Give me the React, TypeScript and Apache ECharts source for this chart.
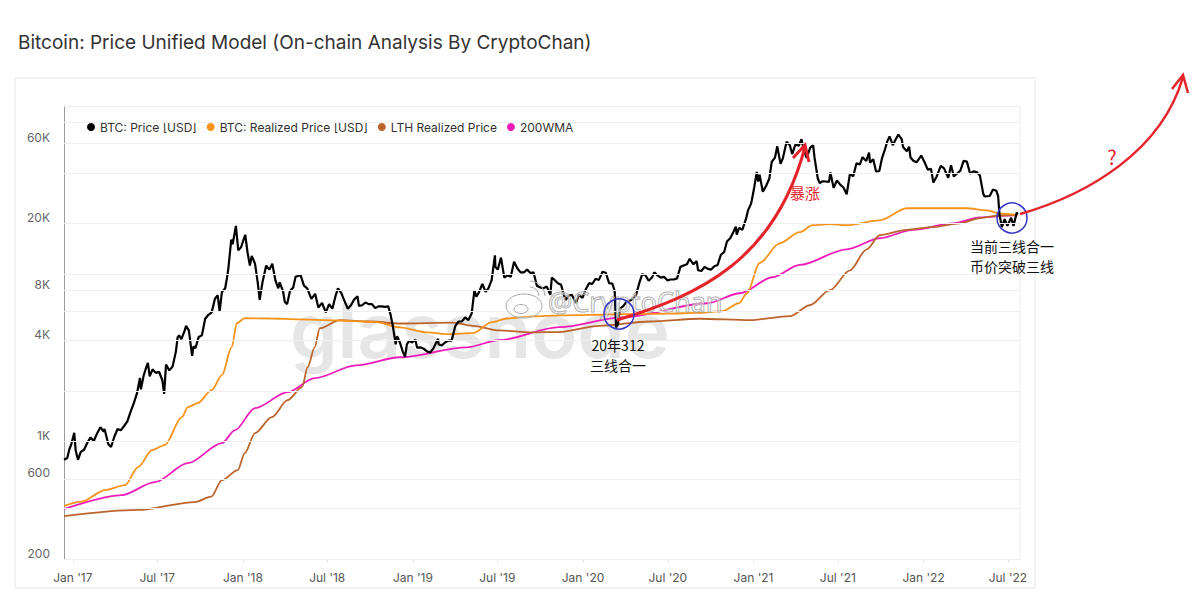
import React, { useEffect, useRef } from 'react';
import * as echarts from 'echarts';

const TITLE = 'Bitcoin: Price Unified Model (On-chain Analysis By CryptoChan)';
const SERIES_NAMES = ['BTC: Price [USD]', 'BTC: Realized Price [USD]', 'LTH Realized Price', '200WMA'];

const xTickDates = [
  '2017-01-01', '2017-07-01', '2018-01-01', '2018-07-01', '2019-01-01', '2019-07-01',
  '2020-01-01', '2020-07-01', '2021-01-01', '2021-07-01', '2022-01-01', '2022-07-01',
];
const xRange = ['2016-12-13', '2022-07-27'];
const yGridValues = [200, 400, 600, 1000, 2000, 4000, 6000, 8000, 10000, 20000, 40000, 60000, 80000, 100000];
const yTickValues = [200, 600, 1000, 4000, 8000, 20000, 60000];
const yTickLabels = ['200', '600', '1K', '4K', '8K', '20K', '60K'];
const monthNames = ['Jan', 'Feb', 'Mar', 'Apr', 'May', 'Jun', 'Jul', 'Aug', 'Sep', 'Oct', 'Nov', 'Dec'];

const btcPrice: [string, number][] = [
  ['2016-12-13', 780], ['2016-12-20', 800], ['2016-12-24', 890], ['2016-12-29', 975], ['2017-01-04', 1130],
  ['2017-01-07', 890], ['2017-01-12', 780], ['2017-01-18', 870], ['2017-01-25', 895], ['2017-02-01', 985],
  ['2017-02-08', 1060], ['2017-02-15', 1010], ['2017-02-22', 1120], ['2017-03-01', 1220], ['2017-03-08', 1150],
  ['2017-03-10', 1190], ['2017-03-18', 970], ['2017-03-24', 930], ['2017-03-31', 1070], ['2017-04-07', 1190],
  ['2017-04-14', 1170], ['2017-04-21', 1240], ['2017-04-28', 1320], ['2017-05-05', 1510], ['2017-05-12', 1700],
  ['2017-05-19', 1960], ['2017-05-25', 2400], ['2017-05-27', 2050], ['2017-06-02', 2480], ['2017-06-08', 2800],
  ['2017-06-11', 2950], ['2017-06-15', 2450], ['2017-06-21', 2700], ['2017-06-28', 2570], ['2017-07-05', 2610],
  ['2017-07-12', 2330], ['2017-07-16', 1930], ['2017-07-20', 2880], ['2017-07-27', 2660], ['2017-08-03', 2800],
  ['2017-08-10', 3420], ['2017-08-14', 4200], ['2017-08-17', 4300], ['2017-08-22', 4080], ['2017-08-29', 4590],
  ['2017-09-01', 4900], ['2017-09-07', 4600], ['2017-09-14', 3250], ['2017-09-17', 3700], ['2017-09-21', 3600],
  ['2017-09-28', 4200], ['2017-10-05', 4300], ['2017-10-12', 5400], ['2017-10-19', 5700], ['2017-10-26', 5900],
  ['2017-11-02', 7100], ['2017-11-08', 7450], ['2017-11-12', 5950], ['2017-11-17', 7800], ['2017-11-24', 8200],
  ['2017-11-29', 9900], ['2017-12-01', 10900], ['2017-12-07', 16000], ['2017-12-10', 15000], ['2017-12-17', 19300],
  ['2017-12-22', 13800], ['2017-12-28', 14400], ['2018-01-06', 17100], ['2018-01-11', 13400], ['2018-01-16', 11200],
  ['2018-01-20', 12800], ['2018-01-27', 11500], ['2018-02-02', 8800], ['2018-02-06', 7000], ['2018-02-12', 8900],
  ['2018-02-20', 11200], ['2018-02-27', 10600], ['2018-03-05', 11500], ['2018-03-12', 9100], ['2018-03-18', 8200],
  ['2018-03-21', 8900], ['2018-03-28', 7900], ['2018-04-01', 6800], ['2018-04-06', 6600], ['2018-04-12', 7900],
  ['2018-04-19', 8300], ['2018-04-24', 9600], ['2018-05-05', 9800], ['2018-05-12', 8500], ['2018-05-19', 8200],
  ['2018-05-28', 7100], ['2018-06-05', 7600], ['2018-06-12', 6300], ['2018-06-20', 6700], ['2018-06-28', 5900],
  ['2018-07-05', 6600], ['2018-07-12', 6200], ['2018-07-19', 7400], ['2018-07-24', 8200], ['2018-07-31', 7700],
  ['2018-08-07', 6900], ['2018-08-14', 6200], ['2018-08-21', 6500], ['2018-08-28', 7050], ['2018-09-04', 7350],
  ['2018-09-07', 6450], ['2018-09-14', 6500], ['2018-09-21', 6750], ['2018-09-28', 6600], ['2018-10-05', 6600],
  ['2018-10-12', 6250], ['2018-10-19', 6400], ['2018-10-26', 6400], ['2018-11-02', 6350], ['2018-11-09', 6400],
  ['2018-11-14', 5700], ['2018-11-19', 4850], ['2018-11-25', 3800], ['2018-11-28', 4250], ['2018-12-04', 3900],
  ['2018-12-10', 3450], ['2018-12-15', 3200], ['2018-12-19', 3800], ['2018-12-24', 4000], ['2018-12-30', 3900],
  ['2019-01-06', 4050], ['2019-01-10', 3630], ['2019-01-17', 3650], ['2019-01-24', 3580], ['2019-01-31', 3450],
  ['2019-02-07', 3400], ['2019-02-14', 3600], ['2019-02-24', 4100], ['2019-02-25', 3800], ['2019-03-04', 3750],
  ['2019-03-11', 3900], ['2019-03-18', 4000], ['2019-03-25', 4000], ['2019-04-02', 4900], ['2019-04-09', 5200],
  ['2019-04-16', 5200], ['2019-04-23', 5500], ['2019-04-30', 5300], ['2019-05-07', 5800], ['2019-05-13', 8000],
  ['2019-05-17', 7300], ['2019-05-22', 7700], ['2019-05-30', 8700], ['2019-06-06', 7800], ['2019-06-12', 8200],
  ['2019-06-19', 9200], ['2019-06-26', 12900], ['2019-06-27', 11000], ['2019-07-02', 10600], ['2019-07-09', 12500],
  ['2019-07-16', 9500], ['2019-07-23', 9800], ['2019-07-30', 9600], ['2019-08-06', 11800], ['2019-08-13', 10800],
  ['2019-08-20', 10200], ['2019-08-27', 10200], ['2019-09-03', 10600], ['2019-09-10', 10100], ['2019-09-17', 10200],
  ['2019-09-24', 8500], ['2019-10-01', 8300], ['2019-10-08', 8200], ['2019-10-15', 8400], ['2019-10-23', 7500],
  ['2019-10-26', 9500], ['2019-11-01', 9200], ['2019-11-08', 8800], ['2019-11-15', 8600], ['2019-11-22', 7300],
  ['2019-11-25', 7000], ['2019-12-01', 7400], ['2019-12-08', 7500], ['2019-12-17', 6700], ['2019-12-23', 7500],
  ['2019-12-31', 7200], ['2020-01-07', 8100], ['2020-01-14', 8800], ['2020-01-21', 8700], ['2020-01-28', 9350],
  ['2020-02-04', 9200], ['2020-02-12', 10300], ['2020-02-19', 10150], ['2020-02-26', 8800], ['2020-03-04', 8750],
  ['2020-03-09', 7900], ['2020-03-12', 4800], ['2020-03-16', 5000], ['2020-03-20', 6200], ['2020-03-27', 6400],
  ['2020-04-03', 6800], ['2020-04-10', 6900], ['2020-04-17', 7100], ['2020-04-24', 7500], ['2020-04-30', 8650],
  ['2020-05-07', 9950], ['2020-05-14', 9800], ['2020-05-21', 9100], ['2020-05-28', 9500], ['2020-06-02', 10200],
  ['2020-06-09', 9800], ['2020-06-16', 9500], ['2020-06-23', 9600], ['2020-06-30', 9150], ['2020-07-07', 9250],
  ['2020-07-14', 9250], ['2020-07-21', 9400], ['2020-07-28', 11000], ['2020-08-04', 11200], ['2020-08-11', 11400],
  ['2020-08-17', 12300], ['2020-08-25', 11400], ['2020-09-01', 11900], ['2020-09-04', 10500], ['2020-09-11', 10400],
  ['2020-09-18', 11000], ['2020-09-25', 10700], ['2020-10-02', 10600], ['2020-10-09', 11100], ['2020-10-16', 11300],
  ['2020-10-23', 13000], ['2020-10-30', 13500], ['2020-11-05', 15600], ['2020-11-12', 16300], ['2020-11-19', 17800],
  ['2020-11-24', 19100], ['2020-11-26', 17100], ['2020-12-01', 18800], ['2020-12-08', 18300], ['2020-12-16', 21300],
  ['2020-12-20', 23800], ['2020-12-27', 26300], ['2021-01-02', 32100], ['2021-01-08', 40500], ['2021-01-11', 35500],
  ['2021-01-14', 39000], ['2021-01-21', 30800], ['2021-01-28', 33400], ['2021-02-04', 37000], ['2021-02-09', 46400],
  ['2021-02-16', 49200], ['2021-02-21', 57500], ['2021-02-28', 45200], ['2021-03-05', 48800], ['2021-03-13', 61200],
  ['2021-03-20', 58300], ['2021-03-25', 51700], ['2021-04-01', 59000], ['2021-04-08', 58000], ['2021-04-14', 63500],
  ['2021-04-18', 55700], ['2021-04-25', 49100], ['2021-05-03', 56600], ['2021-05-09', 58300], ['2021-05-12', 49200],
  ['2021-05-19', 37000], ['2021-05-23', 34700], ['2021-05-29', 35600], ['2021-06-05', 35500], ['2021-06-12', 35300],
  ['2021-06-15', 40200], ['2021-06-22', 32500], ['2021-06-29', 36000], ['2021-07-06', 34000], ['2021-07-13', 32700],
  ['2021-07-20', 29800], ['2021-07-27', 39400], ['2021-08-03', 38100], ['2021-08-10', 45600], ['2021-08-17', 44800],
  ['2021-08-23', 49500], ['2021-08-31', 47100], ['2021-09-06', 52700], ['2021-09-08', 46000], ['2021-09-15', 48100],
  ['2021-09-21', 40700], ['2021-09-28', 41000], ['2021-10-04', 49100], ['2021-10-10', 54900], ['2021-10-15', 61500],
  ['2021-10-20', 65900], ['2021-10-27', 58400], ['2021-11-02', 63200], ['2021-11-08', 67500], ['2021-11-15', 63500],
  ['2021-11-18', 56900], ['2021-11-26', 53700], ['2021-12-01', 57200], ['2021-12-04', 49300], ['2021-12-10', 47200],
  ['2021-12-17', 46200], ['2021-12-27', 50700], ['2022-01-03', 46400], ['2022-01-10', 41800], ['2022-01-17', 42200],
  ['2022-01-22', 35000], ['2022-01-29', 37900], ['2022-02-07', 44000], ['2022-02-14', 42500], ['2022-02-23', 37300],
  ['2022-03-01', 44400], ['2022-03-07', 38000], ['2022-03-14', 39600], ['2022-03-21', 41200], ['2022-03-28', 47100],
  ['2022-04-04', 46600], ['2022-04-11', 39500], ['2022-04-18', 40800], ['2022-04-25', 40400], ['2022-05-02', 38500],
  ['2022-05-09', 30100], ['2022-05-12', 28900], ['2022-05-23', 29100], ['2022-05-30', 31800], ['2022-06-06', 31300],
  ['2022-06-10', 29100], ['2022-06-13', 22500], ['2022-06-18', 19000], ['2022-06-24', 21200], ['2022-06-30', 19300],
  ['2022-07-08', 21600], ['2022-07-13', 19300], ['2022-07-20', 23200], ['2022-07-22', 22600],
];

const realizedPrice: [string, number][] = [
  ['2016-12-13', 414], ['2017-01-20', 440], ['2017-03-11', 515], ['2017-04-23', 551], ['2017-05-21', 706],
  ['2017-06-20', 891], ['2017-07-17', 955], ['2017-08-23', 1400], ['2017-09-05', 1606], ['2017-09-26', 1697],
  ['2017-10-26', 2028], ['2017-11-17', 2490], ['2017-12-08', 3655], ['2017-12-19', 5080], ['2018-01-05', 5440],
  ['2018-03-01', 5420], ['2018-05-03', 5350], ['2018-08-19', 5250], ['2018-10-15', 5150], ['2018-12-04', 4800],
  ['2019-01-31', 4480], ['2019-03-21', 4370], ['2019-05-09', 4430], ['2019-06-20', 5150], ['2019-07-21', 5420],
  ['2019-09-14', 5580], ['2019-11-11', 5660], ['2020-01-15', 5700], ['2020-04-01', 5750], ['2020-07-01', 5800],
  ['2020-09-01', 5850], ['2020-10-27', 6000], ['2020-12-01', 6700], ['2020-12-18', 7660], ['2021-01-14', 11600],
  ['2021-02-26', 15200], ['2021-04-10', 17700], ['2021-05-08', 19500], ['2021-06-15', 19800], ['2021-07-20', 19500],
  ['2021-09-29', 20800], ['2021-11-26', 24600], ['2022-01-14', 24600], ['2022-04-04', 24600], ['2022-05-17', 23900],
  ['2022-06-14', 22900], ['2022-07-22', 22300],
];

const lthRealizedPrice: [string, number][] = [
  ['2016-12-13', 360], ['2017-05-21', 392], ['2017-09-20', 437], ['2017-10-25', 470], ['2017-11-17', 590],
  ['2017-12-21', 677], ['2018-01-05', 855], ['2018-01-27', 1125], ['2018-03-04', 1400], ['2018-04-07', 1768],
  ['2018-05-08', 2113], ['2018-05-20', 2780], ['2018-06-04', 3650], ['2018-06-15', 4740], ['2018-07-28', 5300],
  ['2018-10-01', 5200], ['2018-12-04', 5060], ['2019-03-28', 5120], ['2019-05-09', 4900], ['2019-07-05', 4600],
  ['2019-09-14', 4480], ['2019-11-11', 4500], ['2020-02-05', 4900], ['2020-05-23', 5200], ['2020-09-08', 5400],
  ['2020-12-24', 5300], ['2021-03-20', 5600], ['2021-05-02', 6500], ['2021-06-14', 8000], ['2021-07-27', 10500],
  ['2021-09-01', 14000], ['2021-09-29', 17000], ['2021-11-26', 18300], ['2022-01-21', 19000], ['2022-03-20', 20000],
  ['2022-05-02', 21500], ['2022-06-14', 22300], ['2022-07-22', 22500],
];

const wma200: [string, number][] = [
  ['2016-12-13', 397], ['2017-04-16', 481], ['2017-06-26', 574], ['2017-09-05', 745], ['2017-11-17', 980],
  ['2017-12-15', 1172], ['2018-01-27', 1585], ['2018-04-07', 1973], ['2018-06-04', 2390], ['2018-09-01', 2850],
  ['2018-12-04', 3185], ['2019-04-26', 3650], ['2019-07-05', 4025], ['2019-11-11', 4810], ['2020-03-25', 5500],
  ['2020-09-23', 6680], ['2020-12-03', 7660], ['2021-02-11', 9540], ['2021-04-10', 11300], ['2021-07-20', 14000],
  ['2021-09-29', 16300], ['2021-12-09', 18300], ['2022-03-05', 20000], ['2022-05-02', 21700], ['2022-07-12', 22300],
  ['2022-07-22', 22400],
];

const RED = '#E5232B';
const BLUE = '#3838C8';

const toTime = (d: string) => new Date(d + 'T00:00:00').getTime();
const toXY = (rows: [string, number][]) => rows.map(([d, v]) => [toTime(d), v]);

export default function App() {
  const ref = useRef<HTMLDivElement>(null);
  useEffect(() => {
    if (!ref.current) return;
    const chart = echarts.init(ref.current, null, { renderer: 'svg' });
    const lineCommon = { type: 'line', showSymbol: false, symbol: 'none', silent: true };
    const cjk = '"Noto Sans CJK SC", sans-serif';
    const tickTimes = xTickDates.map(toTime);
    const option: any = {
      animation: false,
      backgroundColor: '#ffffff',
      textStyle: { fontFamily: 'Inter, "Noto Sans", sans-serif' },
      title: {
        text: TITLE, left: 13, top: 28,
        textStyle: { fontSize: 19, fontWeight: 'normal', color: '#333', fontFamily: 'Inter' },
      },
      legend: {
        data: SERIES_NAMES, left: 82, top: 116, icon: 'circle', itemWidth: 8, itemHeight: 8, itemGap: 10,
        textStyle: { fontSize: 12, color: '#333', fontFamily: 'Inter' },
      },
      grid: { left: 64, right: 180, top: 106, bottom: 46 },
      xAxis: {
        type: 'value', min: toTime(xRange[0]), max: toTime(xRange[1]), scale: true,
        axisLine: { show: true, lineStyle: { color: '#ececec' } },
        axisTick: { show: true, length: 4, lineStyle: { color: '#e4e4e4' }, customValues: tickTimes },
        splitLine: { show: false },
        axisLabel: {
          color: '#555', fontSize: 12, margin: 12, fontFamily: 'Inter',
          customValues: tickTimes,
          formatter: (v: number) => {
            const d = new Date(v);
            return monthNames[d.getMonth()] + " '" + String(d.getFullYear()).slice(2);
          },
        },
      },
      yAxis: {
        type: 'log', logBase: 10, min: 200, max: 100000,
        axisLine: { show: true, lineStyle: { color: '#9a9a9a' } },
        axisTick: { show: false }, axisLabel: { show: false }, splitLine: { show: false },
      },
      series: [
        {
          name: 'grid', type: 'line', data: [], silent: true, z: 1,
          markLine: {
            silent: true, symbol: ['none', 'none'], animation: false,
            lineStyle: { color: '#efefef', width: 1, type: 'solid' },
            data: yGridValues.map((v) => {
              const i = yTickValues.indexOf(v);
              return {
                yAxis: v,
                label: i >= 0
                  ? { show: true, position: 'start', formatter: yTickLabels[i], color: '#666', fontSize: 12, distance: 14, offset: [0, -6], fontFamily: 'Inter' }
                  : { show: false },
              };
            }),
          },
        },
        { ...lineCommon, name: SERIES_NAMES[3], data: toXY(wma200), z: 3, color: '#EE1BB8', lineStyle: { width: 1.8, color: '#EE1BB8' }, smooth: 0.3, smoothMonotone: 'x' },
        { ...lineCommon, name: SERIES_NAMES[2], data: toXY(lthRealizedPrice), z: 3, color: '#BC642C', lineStyle: { width: 1.8, color: '#BC642C' }, smooth: 0.3, smoothMonotone: 'x' },
        { ...lineCommon, name: SERIES_NAMES[1], data: toXY(realizedPrice), z: 3, color: '#F7931A', lineStyle: { width: 1.8, color: '#F7931A' }, smooth: 0.3, smoothMonotone: 'x' },
        { ...lineCommon, name: SERIES_NAMES[0], data: toXY(btcPrice), z: 4, color: '#000000', lineStyle: { width: 2.2, color: '#000000' } },
      ],
      graphic: [
        { type: 'rect', z: -10, shape: { x: 15, y: 78, width: 1020, height: 510 }, style: { fill: 'none', stroke: '#e6e6e6', lineWidth: 1 } },
        { type: 'line', z: -5, shape: { x1: 1020, y1: 106, x2: 1020, y2: 559 }, style: { stroke: '#ededed', lineWidth: 1 } },
        { type: 'text', z: -5, x: 290, y: 330, style: { text: 'glassnode', fontSize: 76, fontWeight: 600, fontFamily: 'Inter', fill: '#e6e6e6', verticalAlign: 'middle' } },
        { type: 'ellipse', z: 50, shape: { cx: 524, cy: 306, rx: 18, ry: 12 }, style: { fill: 'rgba(255,255,255,0.3)', stroke: '#a8a8a8', lineWidth: 1 } },
        { type: 'ellipse', z: 50, shape: { cx: 521, cy: 309, rx: 7, ry: 4.5 }, style: { fill: 'none', stroke: '#a8a8a8', lineWidth: 1 } },
        { type: 'arc', z: 50, shape: { cx: 530, cy: 296, r: 9, startAngle: -Math.PI / 2, endAngle: 0 }, style: { fill: 'none', stroke: '#a8a8a8', lineWidth: 1 } },
        { type: 'arc', z: 50, shape: { cx: 530, cy: 296, r: 15, startAngle: -Math.PI / 2, endAngle: 0 }, style: { fill: 'none', stroke: '#a8a8a8', lineWidth: 1 } },
        { type: 'text', z: 50, x: 548, y: 301, style: { text: '@CryptoChan', fontSize: 27, fontFamily: '"Noto Sans", sans-serif', fill: 'rgba(255,255,255,0.35)', stroke: '#a3a3a3', lineWidth: 1, verticalAlign: 'middle' } },
        // annotations
        { type: 'bezierCurve', z: 60, shape: { x1: 617, y1: 320, cpx1: 700, cpy1: 295, cpx2: 775, cpy2: 260, x2: 805, y2: 147 }, style: { fill: 'none', stroke: RED, lineWidth: 3 } },
        { type: 'polyline', z: 60, shape: { points: [[793, 158], [805, 145], [809, 162]] }, style: { fill: 'none', stroke: RED, lineWidth: 3 } },
        { type: 'text', z: 60, x: 805, y: 192, style: { text: '暴涨', fontSize: 15, fontFamily: cjk, fill: RED, align: 'center', verticalAlign: 'middle' } },
        { type: 'circle', z: 60, shape: { cx: 619, cy: 314, r: 15 }, style: { fill: 'none', stroke: BLUE, lineWidth: 1.5 } },
        { type: 'text', z: 60, x: 618, y: 355, style: { text: '20年312\n三线合一', fontSize: 14, lineHeight: 20, fontFamily: cjk, fill: '#111', align: 'center', verticalAlign: 'middle' } },
        { type: 'circle', z: 60, shape: { cx: 1012, cy: 218, r: 15 }, style: { fill: 'none', stroke: BLUE, lineWidth: 1.5 } },
        { type: 'text', z: 60, x: 1012, y: 256, style: { text: '当前三线合一\n币价突破三线', fontSize: 14, lineHeight: 20, fontFamily: cjk, fill: '#111', align: 'center', verticalAlign: 'middle' } },
        { type: 'bezierCurve', z: 60, shape: { x1: 1020, y1: 214, cpx1: 1090, cpy1: 194, cpx2: 1162, cpy2: 150, x2: 1183, y2: 77 }, style: { fill: 'none', stroke: RED, lineWidth: 2.5 } },
        { type: 'polyline', z: 60, shape: { points: [[1172, 89], [1183, 75], [1188, 93]] }, style: { fill: 'none', stroke: RED, lineWidth: 2.5 } },
        { type: 'text', z: 60, x: 1112, y: 156, style: { text: '?', fontSize: 20, fontFamily: cjk, fill: RED, align: 'center', verticalAlign: 'middle' } },
      ],
    };
    chart.setOption(option);
    return () => chart.dispose();
  }, []);
  return <div ref={ref} style={{ position: 'absolute', left: 0, top: 0, width: 1200, height: 605 }} />;
}
